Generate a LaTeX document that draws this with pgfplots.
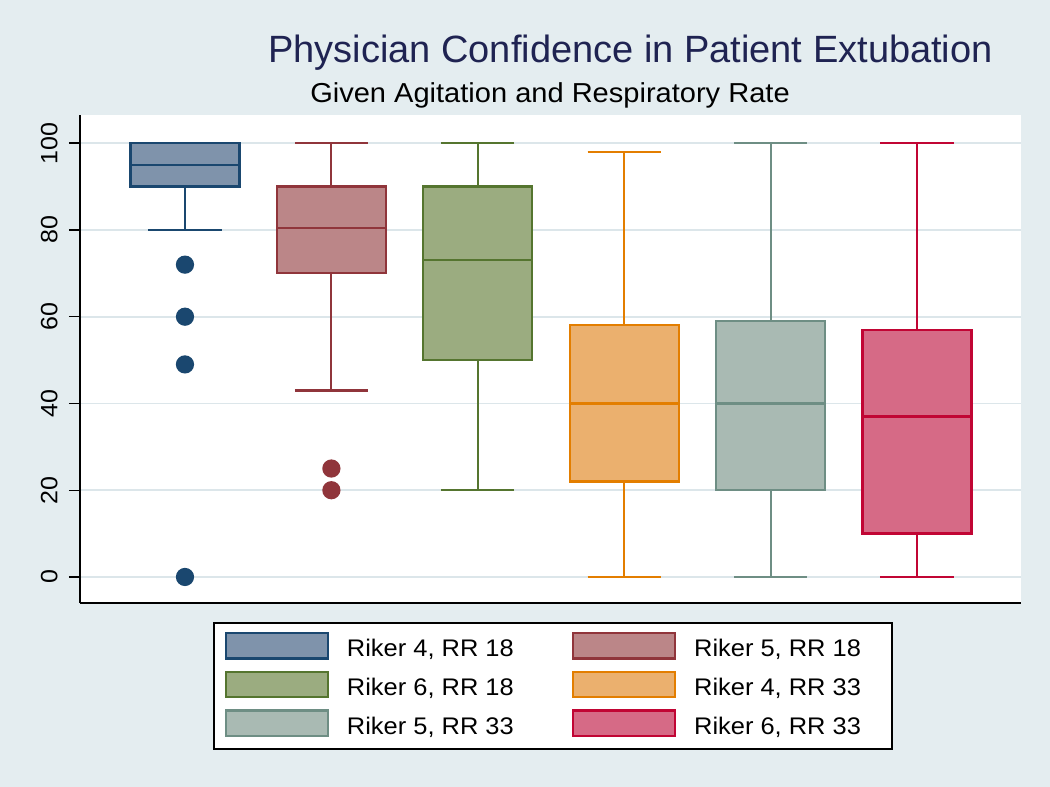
\documentclass[border=0pt]{standalone}
\usepackage{fontspec}
\setmainfont{Liberation Sans}
\newfontfamily\wide{Liberation Sans}[FakeStretch=1.06]
\usepackage{pgfplots}
\pgfplotsset{compat=1.18}
\usepgfplotslibrary{statistics}

\definecolor{bgc}{HTML}{E4EDF0}
\definecolor{gridc}{HTML}{DCE6EA}
\definecolor{titlec}{HTML}{1F2352}
\definecolor{cA}{HTML}{1A476F}
\definecolor{cAf}{HTML}{7F93AB}
\definecolor{cB}{HTML}{90353B}
\definecolor{cBf}{HTML}{BB8688}
\definecolor{cC}{HTML}{55752F}
\definecolor{cCf}{HTML}{9BAC80}
\definecolor{cD}{HTML}{E37E00}
\definecolor{cDf}{HTML}{EBB06E}
\definecolor{cE}{HTML}{6E8E84}
\definecolor{cEf}{HTML}{A9BAB3}
\definecolor{cF}{HTML}{C10534}
\definecolor{cFf}{HTML}{D66A86}

\begin{document}
\begin{tikzpicture}
\fill[bgc] (-40pt,-92pt) rectangle (485pt,301.5pt);
\useasboundingbox (-40pt,-92pt) rectangle (485pt,301.5pt);
\begin{axis}[
    scale only axis, width=470.5pt, height=244pt,
    xmin=0.283, xmax=6.71, ymin=-6, ymax=106.5,
    axis x line*=bottom, axis y line*=left,
    axis line style={black, line width=0.8pt, -},
    every outer x axis line/.append style={-},
    every outer y axis line/.append style={-},
    xtick=\empty,
    ytick={0,20,...,100},
    tick align=outside, major tick length=5.5pt,
    tick style={black, line width=0.7pt},
    yticklabel style={rotate=90, anchor=south, inner xsep=0pt, inner ysep=5.5pt,
        font=\wide\fontsize{11.8}{13}\selectfont},
    /pgf/number format/assume math mode=true,
    ymajorgrids, grid style={color=gridc, line width=0.8pt},
    axis background/.style={fill=white},
    boxplot/draw direction=y,
    legend columns=2, legend cell align=left,
    legend image code/.code={\draw[#1, mark=none] (0pt,-4pt) rectangle (51pt,8.8pt); \path (60pt,0pt);},
    legend style={at={(0.1413,-0.0389)}, anchor=north west, draw=black,
        line width=0.8pt, fill=white, inner xsep=5.5pt, inner ysep=4.5pt,
        font=\wide\fontsize{12}{14}\selectfont,
        nodes={inner sep=0pt, text height=9pt, text depth=2.7pt}, row sep=4.2pt},
  ]
  \addplot[boxplot prepared={draw position=1, lower whisker=80, lower quartile=90,
      median=95, upper quartile=100, upper whisker=100, box extend=0.745, whisker extend=0.5},
      draw=cA, fill=cAf, line width=1.1pt, mark=*, mark size=4pt,
      mark options={fill=cA, draw=none}]
    table[row sep=\\, y index=0] {72\\60\\49\\0\\};
  \addplot[boxplot prepared={draw position=2, lower whisker=43, lower quartile=70,
      median=80.5, upper quartile=90, upper whisker=100, box extend=0.745, whisker extend=0.5},
      draw=cB, fill=cBf, line width=1.1pt, mark=*, mark size=4pt,
      mark options={fill=cB, draw=none}]
    table[row sep=\\, y index=0] {25\\20\\};
  \addplot[boxplot prepared={draw position=3, lower whisker=20, lower quartile=50,
      median=73, upper quartile=90, upper whisker=100, box extend=0.745, whisker extend=0.5},
      draw=cC, fill=cCf, line width=1.1pt] coordinates {};
  \addplot[boxplot prepared={draw position=4, lower whisker=0, lower quartile=22,
      median=40, upper quartile=58, upper whisker=98, box extend=0.745, whisker extend=0.5},
      draw=cD, fill=cDf, line width=1.1pt] coordinates {};
  \addplot[boxplot prepared={draw position=5, lower whisker=0, lower quartile=20,
      median=40, upper quartile=59, upper whisker=100, box extend=0.745, whisker extend=0.5},
      draw=cE, fill=cEf, line width=1.1pt] coordinates {};
  \addplot[boxplot prepared={draw position=6, lower whisker=0, lower quartile=10,
      median=37, upper quartile=57, upper whisker=100, box extend=0.745, whisker extend=0.5},
      draw=cF, fill=cFf, line width=1.1pt] coordinates {};
  \legend{\makebox[112.5pt][l]{Riker 4, RR 18}, \makebox[93.5pt][l]{Riker 5, RR 18},
          \makebox[112.5pt][l]{Riker 6, RR 18}, \makebox[93.5pt][l]{Riker 4, RR 33},
          \makebox[112.5pt][l]{Riker 5, RR 33}, \makebox[93.5pt][l]{Riker 6, RR 33}}
\end{axis}
\node[anchor=base, text=titlec, font=\fontsize{19}{22}\selectfont] at (275.25pt,270pt)
  {Physician Confidence in Patient Extubation};
\node[anchor=base, font=\wide\fontsize{13.7}{16}\selectfont] at (235pt,250pt)
  {Given Agitation and Respiratory Rate};
\end{tikzpicture}
\end{document}
